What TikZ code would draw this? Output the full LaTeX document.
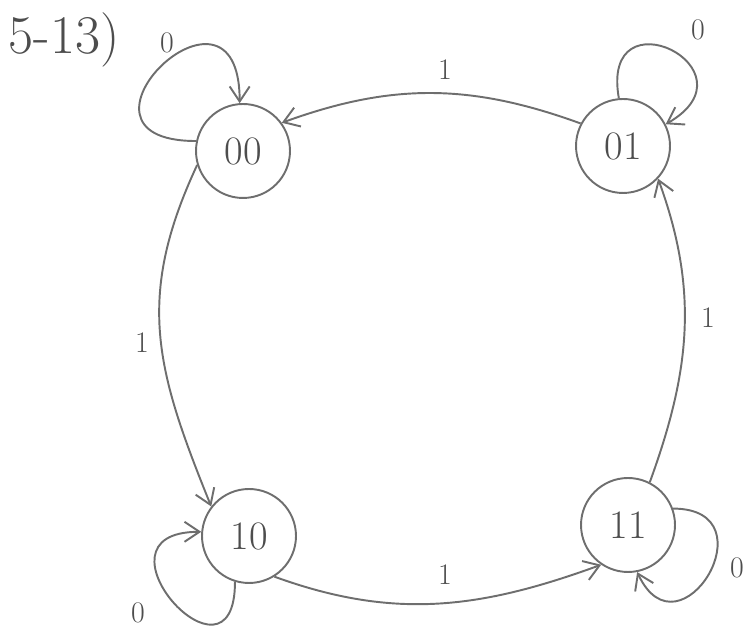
\documentclass[tikz,border=0pt]{standalone}
\usepackage{tikz}
\usetikzlibrary{arrows.meta}
\definecolor{pencil}{HTML}{6E6E6E}

\begin{document}
\begin{tikzpicture}[
    x=0.02cm, y=0.02cm,
    state/.style={circle, draw=pencil, line width=1.1pt, minimum size=1.88cm,
                  inner sep=0pt, text=pencil!70!black, font=\fontsize{23}{27}\selectfont},
    arr/.style={-{Straight Barb[length=3mm, width=4mm]}, line width=1.1pt, pencil},
    lbl/.style={text=pencil!70!black, font=\fontsize{17}{20}\selectfont}
]
    \useasboundingbox (0,0) rectangle (750,631);

    \node[text=pencil!70!black, font=\fontsize{31}{36}\selectfont] (title) at (64,591) {5-13)};

    % states
    \node[state] (s00) at (243,480) {00};
    \node[state] (s01) at (623,485) {01};
    \node[state] (s10) at (249,95) {10};
    \node[state] (s11) at (628,106) {11};

    % transitions on 1
    \draw[arr] (s01.152) to[out=160, in=20] (s00.36);
    \draw[arr] (s00.197) to[out=245, in=112, looseness=1.1] (s10.142);
    \draw[arr] (s10.302) to[out=-20, in=200] (s11.236);
    \draw[arr] (s11.63) to[out=70, in=-70] (s01.-43);

    \node[lbl] (l0001) at (445,561) {1};
    \node[lbl] (l0010) at (142,288) {1};
    \node[lbl] (l1011) at (445,56) {1};
    \node[lbl] (l1101) at (708,313) {1};

    % self loops on 0
    \draw[arr] (s00.168) to[out=180, in=90, distance=3cm] (s00.94);
    \draw[arr] (s01.95) to[out=100, in=30, distance=2.2cm] (s01.27);
    \draw[arr] (s10.253) to[out=-90, in=180, distance=2.4cm] (s10.175);
    \draw[arr] (s11.20) to[out=0, in=-65, distance=2cm] (s11.-79);

    \node[lbl] (l00) at (167,588) {0};
    \node[lbl] (l01) at (698,601) {0};
    \node[lbl] (l10) at (138,18) {0};
    \node[lbl] (l11) at (737,63) {0};
\end{tikzpicture}
\end{document}
